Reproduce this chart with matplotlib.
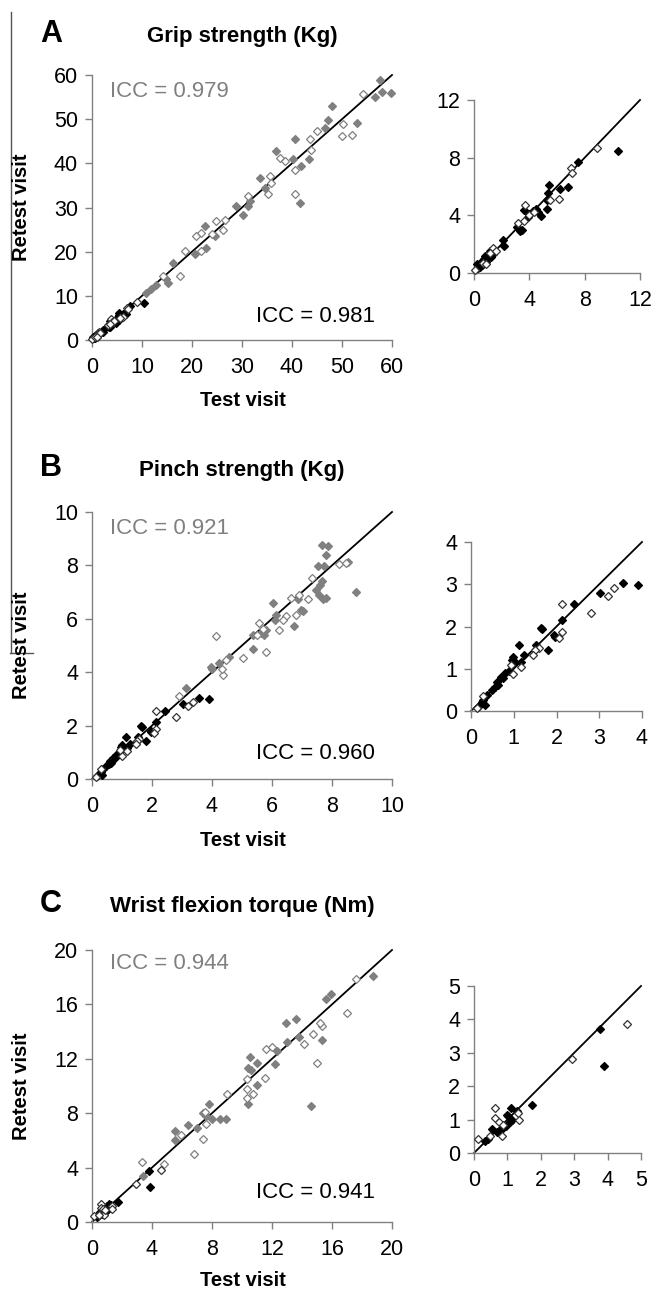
import matplotlib.pyplot as plt
from matplotlib.lines import Line2D

plt.rcParams['font.family'] = ['Liberation Sans', 'DejaVu Sans']

# ---- data (test visit, retest visit) ----
# A: grip strength, main plot
grip_gray_x = [57.5, 56.5, 57.9, 59.8, 48.0, 47.1, 46.5, 52.9, 40.5, 43.3, 41.8, 40.1, 36.8, 33.5, 34.5,
               41.5, 31.5, 31.1, 30.1, 28.8, 22.5, 24.5, 22.8, 20.5, 16.1, 14.8, 15.1, 12.7, 11.8, 10.8]
grip_gray_y = [58.8, 55.1, 56.1, 56.0, 52.9, 49.9, 48.1, 49.2, 45.4, 40.9, 39.4, 40.9, 42.8, 36.7, 34.5,
               31.1, 31.5, 30.3, 28.4, 30.3, 25.8, 23.5, 20.9, 19.4, 17.4, 13.8, 12.9, 12.5, 11.5, 10.6]
grip_open_x = [54.1, 50.1, 50.0, 52.0, 44.9, 43.6, 43.8, 37.5, 38.5, 40.5, 40.5, 35.5, 35.8, 35.1, 31.1,
               26.1, 24.8, 26.6, 23.9, 21.8, 20.7, 21.8, 18.5, 17.5, 14.1]
grip_open_y = [55.6, 48.8, 46.3, 46.5, 47.3, 45.6, 43.1, 41.3, 40.5, 38.6, 33.0, 37.1, 35.6, 33.0, 32.6,
               25.0, 26.9, 27.2, 24.1, 24.3, 23.5, 20.1, 20.1, 14.5, 14.5]
# A: inset (low range)
grip_in_black_x = [10.4, 7.5, 5.45, 5.35, 6.2, 6.8, 5.25, 5.3, 4.85, 4.5, 4.25, 3.65, 3.9, 3.5, 3.3, 3.1,
                   2.1, 2.2, 1.15, 0.8, 0.55, 0.2, 1.0, 0.45, 1.4, 0.9, 0.7, 1.2, 0.3, 0.6, 4.6, 4.0]
grip_in_black_y = [8.45, 7.7, 6.1, 5.55, 5.8, 5.95, 5.05, 4.45, 3.95, 4.45, 4.3, 4.35, 3.85, 3.0, 2.9, 3.2,
                   2.3, 1.85, 1.5, 1.15, 0.8, 0.65, 1.05, 0.45, 1.3, 0.75, 0.95, 1.1, 0.35, 0.55, 4.2, 4.1]
grip_in_open_x = [8.9, 7.0, 7.1, 6.15, 5.5, 3.7, 4.0, 4.35, 3.2, 3.6, 1.4, 1.15, 0.07, 0.65, 1.6, 0.9]
grip_in_open_y = [8.65, 7.3, 6.95, 5.1, 5.05, 4.75, 4.05, 4.2, 3.45, 3.6, 1.7, 1.4, 0.2, 0.7, 1.5, 0.6]

# B: pinch strength, main plot
pinch_gray_x = [7.67, 7.86, 7.8, 8.52, 8.8, 7.52, 7.74, 7.6, 7.45, 7.55, 7.7, 7.8, 7.65, 6.86, 6.97, 7.02,
                6.74, 6.04, 6.13, 6.11, 5.8, 5.74, 5.63, 5.36, 5.38, 4.58, 4.24, 3.97, 4.0, 3.13]
pinch_gray_y = [8.78, 8.71, 8.4, 8.11, 6.99, 7.96, 7.96, 7.25, 7.06, 6.88, 6.75, 6.78, 7.4, 6.74, 6.34, 6.31,
                5.74, 6.61, 6.15, 5.94, 5.59, 5.4, 5.46, 5.4, 4.86, 4.56, 4.34, 4.21, 4.11, 3.42]
pinch_open_x = [4.13, 5.58, 5.8, 5.02, 4.38, 4.33, 4.47, 6.47, 6.22, 6.35, 6.8, 6.91, 7.19, 7.33, 8.22,
                8.47, 6.63, 2.89, 5.5, 5.7]
pinch_open_y = [5.37, 5.84, 4.74, 4.52, 3.89, 4.11, 4.46, 6.09, 5.59, 5.95, 6.15, 6.9, 6.74, 7.53, 8.06,
                8.09, 6.78, 3.11, 5.4, 5.6]
# B: inset
pinch_in_black_x = [3.91, 3.55, 3.02, 2.42, 2.13, 1.64, 1.67, 1.95, 1.97, 1.8, 1.52, 1.13, 1.25, 0.99, 1.03,
                    1.16, 0.8, 0.76, 0.64, 0.56, 0.48, 0.37, 0.29, 0.25, 0.33, 0.17, 0.95, 0.6, 0.9, 0.7]
pinch_in_black_y = [2.98, 3.02, 2.8, 2.54, 2.15, 1.97, 1.94, 1.81, 1.76, 1.44, 1.56, 1.56, 1.32, 1.28, 1.17,
                    1.17, 0.89, 0.77, 0.61, 0.57, 0.5, 0.38, 0.26, 0.22, 0.14, 0.1, 1.2, 0.69, 0.95, 0.8]
pinch_in_open_x = [3.35, 3.2, 2.81, 2.13, 2.14, 2.05, 1.58, 1.5, 1.46, 0.99, 0.94, 1.16, 0.29, 0.13]
pinch_in_open_y = [2.9, 2.72, 2.31, 2.54, 1.87, 1.72, 1.5, 1.44, 1.32, 0.87, 1.09, 1.05, 0.36, 0.06]

# C: wrist flexion torque, main plot
wrist_gray_x = [18.7, 15.9, 15.6, 12.9, 13.6, 13.0, 13.8, 15.3, 14.6, 12.3, 12.2, 10.5, 10.4, 10.6, 11.0,
                11.0, 10.4, 7.8, 7.4, 7.6, 6.4, 7.0, 5.5, 5.5, 8.0, 8.5, 8.9, 3.4]
wrist_gray_y = [18.1, 16.8, 16.4, 14.65, 14.9, 13.2, 13.6, 13.4, 8.55, 12.6, 11.6, 12.1, 11.3, 11.2, 11.7,
                10.1, 8.7, 8.7, 8.0, 7.8, 7.1, 6.9, 6.7, 6.05, 7.6, 7.6, 7.6, 3.4]
wrist_open_x = [17.6, 17.0, 15.3, 15.2, 15.0, 14.7, 14.1, 11.6, 12.0, 11.5, 10.7, 10.3, 10.3, 10.3, 9.0,
                7.5, 7.6, 7.4, 6.8, 5.9, 3.3, 4.8]
wrist_open_y = [17.9, 15.4, 14.4, 14.6, 11.7, 13.8, 13.1, 12.7, 12.9, 10.6, 9.4, 9.8, 9.1, 10.5, 9.4,
                8.1, 7.2, 6.1, 5.0, 6.4, 4.4, 4.3]
# C: inset
wrist_in_black_x = [3.78, 3.89, 1.75, 1.1, 1.28, 0.98, 1.03, 1.08, 0.96, 0.55, 0.68, 0.33, 0.43, 0.85, 1.15]
wrist_in_black_y = [3.72, 2.59, 1.44, 1.36, 1.25, 1.15, 1.1, 0.92, 0.8, 0.72, 0.62, 0.35, 0.42, 0.72, 1.0]
wrist_in_open_x = [4.58, 2.93, 0.63, 0.63, 0.75, 0.13, 1.33, 1.36, 0.83, 0.48, 0.88]
wrist_in_open_y = [3.85, 2.82, 1.34, 1.05, 0.92, 0.42, 1.19, 0.98, 0.52, 0.52, 0.85]

letters = ['A', 'B', 'C']
titles = ['Grip strength (Kg)', 'Pinch strength (Kg)', 'Wrist flexion torque (Nm)']
icc_gray = ['ICC = 0.979', 'ICC = 0.921', 'ICC = 0.944']
icc_black = ['ICC = 0.981', 'ICC = 0.960', 'ICC = 0.941']
main_lim = [60, 10, 20]
main_step = [10, 2, 4]
inset_lim = [12, 4, 5]
inset_step = [4, 1, 1]

W, H = 655, 1296
GRAY = '#808080'
fig = plt.figure(figsize=(W / 100, H / 100), dpi=100)


def px_axes(x0, y0, x1, y1):
    return fig.add_axes([x0 / W, 1 - y1 / H, (x1 - x0) / W, (y1 - y0) / H])


def style(ax, lim, step):
    ax.set_xlim(0, lim)
    ax.set_ylim(0, lim)
    ax.set_xticks(range(0, lim + 1, step))
    ax.set_yticks(range(0, lim + 1, step))
    for s in ['top', 'right']:
        ax.spines[s].set_visible(False)
    for s in ['left', 'bottom']:
        ax.spines[s].set_color(GRAY)
        ax.spines[s].set_linewidth(1)
    ax.tick_params(color=GRAY, labelcolor='black', labelsize=15.5, length=5, width=1, pad=5)
    ax.tick_params(axis='x', pad=7)
    ax.plot([0, lim], [0, lim], color='black', lw=1.3, zorder=1, clip_on=False)


def pts(ax, x, y, face, edge, ms=4.5):
    ax.plot(x, y, 'D', ms=ms, mfc=face, mec=edge, mew=0.9, ls='none', zorder=3, clip_on=False)


main_boxes = [(92, 75, 392, 340), (92, 512, 392, 779), (92, 950, 392, 1222)]
inset_boxes = [(474, 100, 640, 273), (471, 542, 642, 711), (474, 986, 641, 1153)]
title_base = [42, 476, 912]
xlabel_y = [400, 841, 1280]
icc_gray_y = [0.936, 0.94, 0.952]
icc_black_y = [0.087, 0.094, 0.107]

groups = [
    (grip_gray_x, grip_gray_y, grip_open_x, grip_open_y,
     grip_in_black_x, grip_in_black_y, grip_in_open_x, grip_in_open_y),
    (pinch_gray_x, pinch_gray_y, pinch_open_x, pinch_open_y,
     pinch_in_black_x, pinch_in_black_y, pinch_in_open_x, pinch_in_open_y),
    (wrist_gray_x, wrist_gray_y, wrist_open_x, wrist_open_y,
     wrist_in_black_x, wrist_in_black_y, wrist_in_open_x, wrist_in_open_y),
]

for i, (gx, gy, ox, oy, bx, by, box, boy) in enumerate(groups):
    ax = px_axes(*main_boxes[i])
    style(ax, main_lim[i], main_step[i])
    pts(ax, gx, gy, GRAY, GRAY)
    pts(ax, ox, oy, 'white', GRAY)
    pts(ax, bx, by, 'black', 'black')
    pts(ax, box, boy, 'white', '#333333')
    ax.text(0.06, icc_gray_y[i], icc_gray[i], transform=ax.transAxes, color=GRAY,
            fontsize=16, ha='left', va='center')
    ax.text(0.943, icc_black_y[i], icc_black[i], transform=ax.transAxes, color='black',
            fontsize=16, ha='right', va='center')

    axi = px_axes(*inset_boxes[i])
    style(axi, inset_lim[i], inset_step[i])
    pts(axi, bx, by, 'black', 'black')
    pts(axi, box, boy, 'white', '#333333')

    x0, y0, x1, y1 = main_boxes[i]
    fig.text(40 / W, 1 - title_base[i] / H, letters[i], fontsize=22, fontweight='bold',
             ha='left', va='baseline')
    fig.text((x0 + x1) / 2 / W, 1 - title_base[i] / H, titles[i], fontsize=16, fontweight='bold',
             ha='center', va='baseline')
    fig.text(22 / W, 1 - (y0 + y1) / 2 / H, 'Retest visit', fontsize=14.5, fontweight='bold',
             rotation=90, ha='center', va='center')
    fig.text(243 / W, 1 - xlabel_y[i] / H, 'Test visit', fontsize=14.5, fontweight='bold',
             ha='center', va='center')

# stray frame lines at the left edge of the figure
fig.add_artist(Line2D([11 / W, 11 / W], [1 - 12 / H, 1 - 653 / H], color='#555555', lw=1))
fig.add_artist(Line2D([10 / W, 33 / W], [1 - 653 / H, 1 - 653 / H], color='#555555', lw=1))

fig.savefig('out.png', dpi=100)
